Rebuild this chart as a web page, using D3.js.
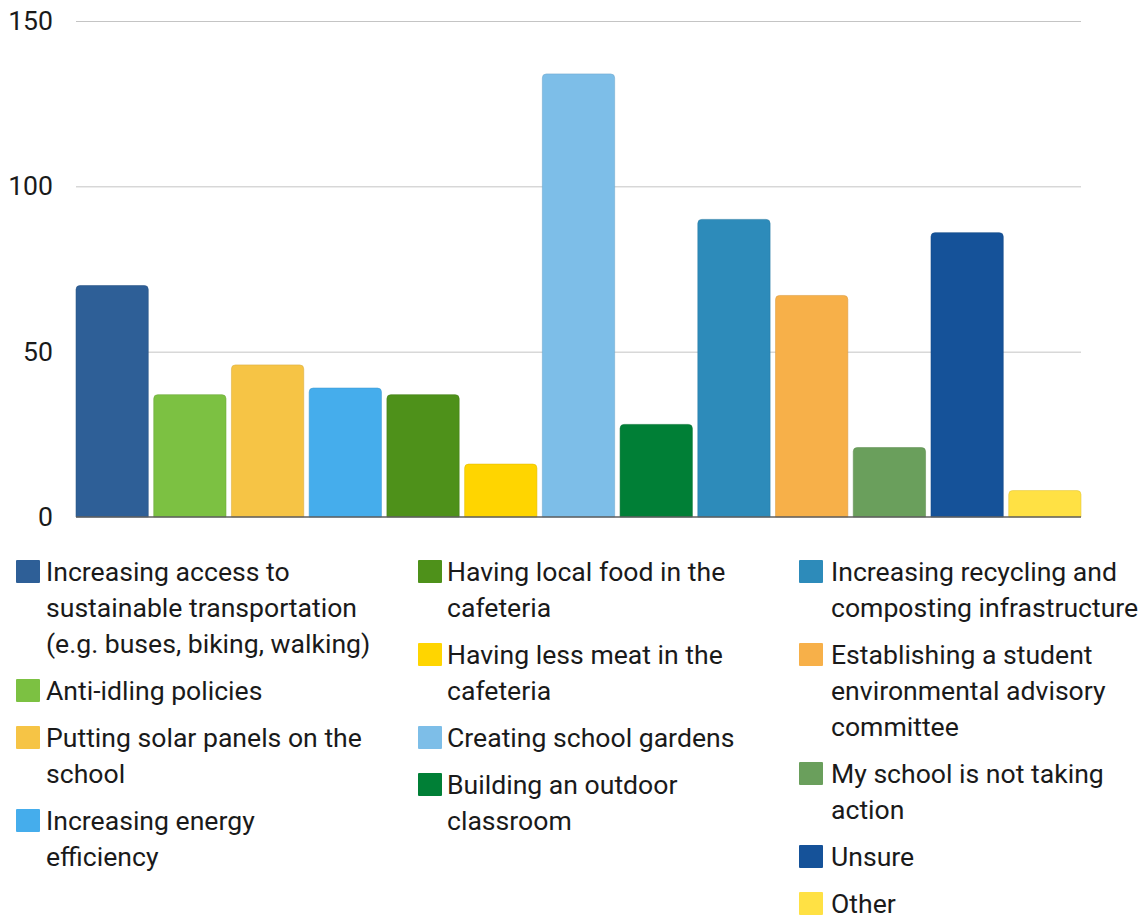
<!DOCTYPE html>
<html>
<head>
<meta charset="utf-8">
<script src="https://cdn.jsdelivr.net/npm/d3@7"></script>
<style>
  html, body { margin: 0; padding: 0; background: #fff; }
  svg { display: block; font-family: Roboto, "Noto Sans", sans-serif; }
</style>
</head>
<body>
<svg id="chart" width="1143" height="915"></svg>
<script>
// Survey answers: actions schools are taking (line breaks mark legend wrapping)
const categories = [
  "Increasing access to\nsustainable transportation\n(e.g. buses, biking, walking)",
  "Anti-idling policies",
  "Putting solar panels on the\nschool",
  "Increasing energy\nefficiency",
  "Having local food in the\ncafeteria",
  "Having less meat in the\ncafeteria",
  "Creating school gardens",
  "Building an outdoor\nclassroom",
  "Increasing recycling and\ncomposting infrastructure",
  "Establishing a student\nenvironmental advisory\ncommittee",
  "My school is not taking\naction",
  "Unsure",
  "Other"
];
const counts = [70, 37, 46, 39, 37, 16, 134, 28, 90, 67, 21, 86, 8];
const colors = [
  "#2E5F97", "#7CC142", "#F6C445", "#45ADEC", "#4E911A", "#FFD500", "#7DBEE8",
  "#007F36", "#2D8BBA", "#F7B049", "#6A9F5C", "#155299", "#FFE144"
];
const yTicks = [0, 50, 100, 150];
// which legend column each answer sits in
const legendColumn = [0, 0, 0, 0, 1, 1, 1, 1, 2, 2, 2, 2, 2];

const svg = d3.select("#chart");
const plot = { left: 76, right: 1081, top: 21, bottom: 517 };
const fontSize = "26.6px";

const x = d3.scaleBand()
  .domain(d3.range(categories.length))
  .range([plot.left, plot.right])
  .paddingInner(0.07)
  .paddingOuter(0);

const y = d3.scaleLinear()
  .domain([0, 150])
  .range([plot.bottom, plot.top]);

// gridlines + value labels
const yAxis = d3.axisLeft(y)
  .tickValues(yTicks)
  .tickSize(-(plot.right - plot.left))
  .tickPadding(23);

const gy = svg.append("g")
  .attr("transform", `translate(${plot.left},0)`)
  .call(yAxis);
gy.select(".domain").remove();
gy.selectAll(".tick line").attr("stroke", "#c4c4c4").attr("stroke-width", 1);
gy.selectAll(".tick text")
  .attr("fill", "#1a1a1a")
  .style("font-size", fontSize)
  .style("font-family", "Roboto, sans-serif");
gy.selectAll(".tick").filter(d => d === 0).select("line").remove();

// bars with rounded tops
function barPath(x0, y0, w, h, r) {
  r = Math.min(r, h, w / 2);
  return `M${x0},${y0 + h}V${y0 + r}Q${x0},${y0} ${x0 + r},${y0}` +
         `H${x0 + w - r}Q${x0 + w},${y0} ${x0 + w},${y0 + r}V${y0 + h}Z`;
}

svg.append("g").selectAll("path")
  .data(counts)
  .join("path")
  .attr("d", (d, i) => barPath(x(i), y(d), x.bandwidth(), y(0) - y(d), 4))
  .attr("fill", (d, i) => colors[i])
  .attr("stroke", (d, i) => d3.color(colors[i]).darker(0.35))
  .attr("stroke-opacity", 0.55)
  .attr("stroke-width", 1);

// baseline
svg.append("line")
  .attr("x1", plot.left).attr("x2", plot.right)
  .attr("y1", y(0)).attr("y2", y(0))
  .attr("stroke", "#5f5f5f").attr("stroke-width", 1.5);

// legend in three columns
const colSwatchX = [16, 418, 799];
const colTextX = [46, 447, 831];
const legendTop = 560;
const lineH = 36;
const itemGap = 11;
const swatch = 24;

const colY = [legendTop, legendTop, legendTop];
const legend = svg.append("g");
categories.forEach((label, i) => {
  const c = legendColumn[i];
  const lines = label.split("\n");
  const top = colY[c];
  const g = legend.append("g");
  g.append("rect")
    .attr("x", colSwatchX[c]).attr("y", top)
    .attr("width", swatch).attr("height", swatch - 1)
    .attr("rx", 1)
    .attr("fill", colors[i]);
  const t = g.append("text")
    .attr("x", colTextX[c])
    .attr("y", top + 21)
    .attr("fill", "#1a1a1a")
    .style("font-size", fontSize);
  lines.forEach((ln, k) => {
    t.append("tspan")
      .attr("x", colTextX[c])
      .attr("dy", k === 0 ? 0 : lineH)
      .text(ln);
  });
  colY[c] = top + lines.length * lineH + itemGap;
});
</script>
</body>
</html>
